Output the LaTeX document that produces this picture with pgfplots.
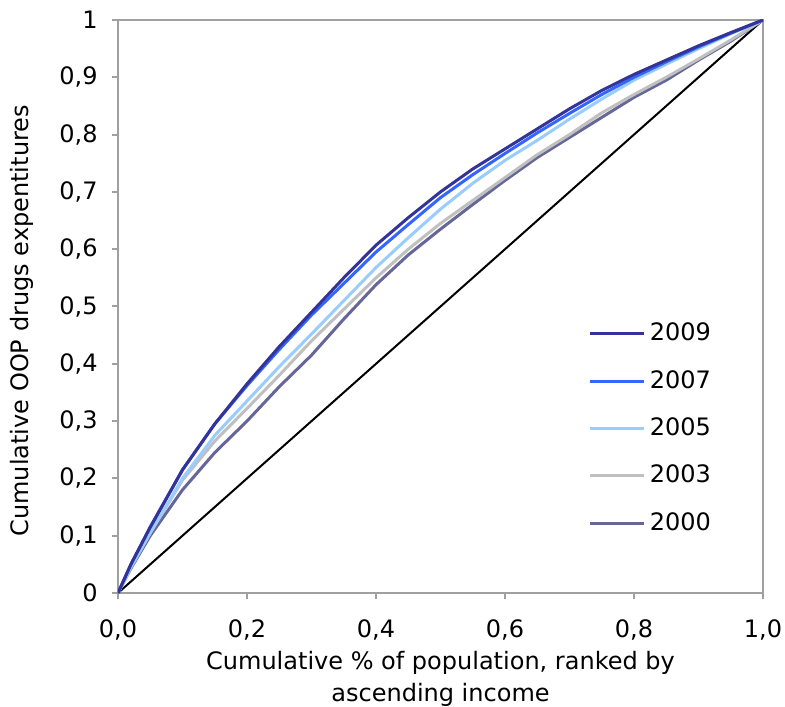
\documentclass[border=0pt]{standalone}
\usepackage{fontspec}
\setmainfont{DejaVu Sans}
\usepackage{pgfplots}
\pgfplotsset{compat=1.18}
\definecolor{c2009}{RGB}{51,51,153}
\definecolor{c2007}{RGB}{51,102,255}
\definecolor{c2005}{RGB}{153,204,255}
\definecolor{c2003}{RGB}{192,192,192}
\definecolor{c2000}{RGB}{102,102,153}
\definecolor{axgray}{RGB}{160,160,160}
\begin{document}
\fontsize{12pt}{14.4pt}\selectfont
\begin{tikzpicture}
\useasboundingbox (-59pt,-56.5pt) rectangle (333.5pt,296.5pt);
\begin{axis}[
  at={(0,0)}, anchor=south west,
  scale only axis, width=322.5pt, height=286.5pt,
  xmin=0, xmax=1, ymin=0, ymax=1,
  axis line style={axgray, line width=1pt},
  tick style={axgray, line width=1pt},
  tick align=outside, major tick length=3pt,
  xtick pos=left, ytick pos=left,
  xtick={0,0.2,0.4,0.6,0.8,1},
  xticklabels={{0,0},{0,2},{0,4},{0,6},{0,8},{1,0}},
  ytick={0,0.1,0.2,0.3,0.4,0.5,0.6,0.7,0.8,0.9,1},
  yticklabels={0,{0,1},{0,2},{0,3},{0,4},{0,5},{0,6},{0,7},{0,8},{0,9},1},
  xticklabel style={font=\fontsize{12pt}{14.4pt}\selectfont, yshift=-6pt},
  yticklabel style={font=\fontsize{12pt}{14.4pt}\selectfont, xshift=-3pt},
  xlabel={Cumulative \% of population, ranked by\\ascending income},
  xlabel style={align=center, font=\fontsize{12pt}{16pt}\selectfont, at={(axis description cs:0.5,0)}, anchor=north, yshift=-25pt},
  ylabel={Cumulative OOP drugs expentitures},
  ylabel style={font=\fontsize{12pt}{14.4pt}\selectfont, at={(axis description cs:-0.149,0.475)}, anchor=center},
  legend style={draw=none, fill=none, at={(axis description cs:0.72,0.486)}, anchor=north west,
    font=\fontsize{12pt}{14.4pt}\selectfont, row sep=9.0pt},
  legend cell align=left,
  reverse legend,
  legend image code/.code={\draw[#1] (0pt,0pt) -- (27pt,0pt);},
  every axis plot/.append style={line width=1.5pt, line join=round},
]
\addplot[black, line width=1pt, forget plot] coordinates {(0,0) (1,1)};
\addplot[c2000] coordinates {(0,0) (0.02,0.043) (0.05,0.1) (0.1,0.18) (0.15,0.245) (0.2,0.30) (0.25,0.36) (0.3,0.415) (0.35,0.478) (0.4,0.538) (0.45,0.59) (0.5,0.635) (0.55,0.678) (0.6,0.72) (0.65,0.76) (0.7,0.795) (0.75,0.83) (0.8,0.865) (0.85,0.895) (0.9,0.93) (0.95,0.963) (1,1)};
\addplot[c2003] coordinates {(0,0) (0.02,0.045) (0.05,0.105) (0.1,0.197) (0.15,0.265) (0.2,0.322) (0.25,0.38) (0.3,0.44) (0.35,0.495) (0.4,0.55) (0.45,0.6) (0.5,0.645) (0.55,0.685) (0.6,0.725) (0.65,0.765) (0.7,0.8) (0.75,0.838) (0.8,0.87) (0.85,0.9) (0.9,0.932) (0.95,0.965) (1,1)};
\addplot[c2005] coordinates {(0,0) (0.02,0.045) (0.05,0.105) (0.1,0.2) (0.15,0.275) (0.2,0.335) (0.25,0.395) (0.3,0.452) (0.35,0.51) (0.4,0.568) (0.45,0.62) (0.5,0.67) (0.55,0.715) (0.6,0.755) (0.65,0.79) (0.7,0.827) (0.75,0.862) (0.8,0.895) (0.85,0.923) (0.9,0.95) (0.95,0.976) (1,1)};
\addplot[c2007] coordinates {(0,0) (0.02,0.05) (0.05,0.115) (0.1,0.215) (0.15,0.295) (0.2,0.362) (0.25,0.425) (0.3,0.485) (0.35,0.54) (0.4,0.595) (0.45,0.643) (0.5,0.69) (0.55,0.73) (0.6,0.767) (0.65,0.803) (0.7,0.837) (0.75,0.87) (0.8,0.9) (0.85,0.927) (0.9,0.953) (0.95,0.977) (1,1)};
\addplot[c2009] coordinates {(0,0) (0.02,0.05) (0.05,0.115) (0.1,0.215) (0.15,0.295) (0.2,0.365) (0.25,0.43) (0.3,0.49) (0.35,0.55) (0.4,0.607) (0.45,0.655) (0.5,0.70) (0.55,0.74) (0.6,0.775) (0.65,0.81) (0.7,0.845) (0.75,0.877) (0.8,0.905) (0.85,0.93) (0.9,0.955) (0.95,0.978) (1,1)};
\legend{2000,2003,2005,2007,2009}
\end{axis}
\end{tikzpicture}
\end{document}
